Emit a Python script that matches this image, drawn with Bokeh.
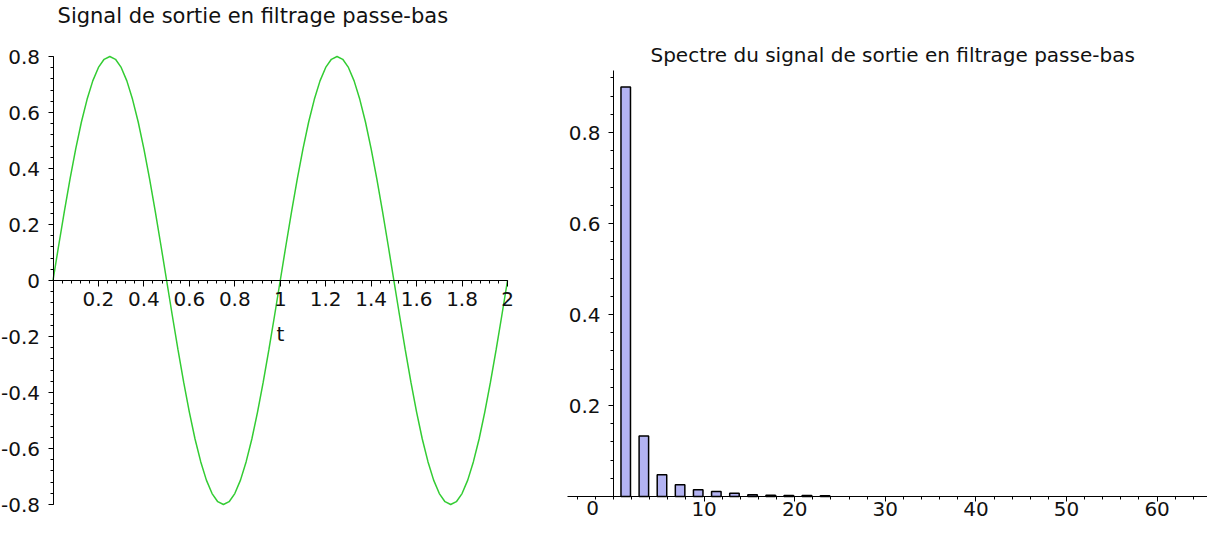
import numpy as np
from bokeh.plotting import figure
from bokeh.layouts import row
from bokeh.models import FixedTicker, Range1d, Label, ColumnDataSource
from bokeh.transform import dodge
from bokeh.embed import file_html
from bokeh.resources import INLINE

# ---------------- data ----------------
title_left = "Signal de sortie en filtrage passe-bas"
title_right = "Spectre du signal de sortie en filtrage passe-bas"

t_values = list(np.round(np.linspace(0, 2, 81), 3))
signal_values = [
    0.000, 0.125, 0.247, 0.363, 0.470, 0.566, 0.647, 0.713, 0.761, 0.790, 0.800,
    0.790, 0.761, 0.713, 0.647, 0.566, 0.470, 0.363, 0.247, 0.125, 0.000,
    -0.125, -0.247, -0.363, -0.470, -0.566, -0.647, -0.713, -0.761, -0.790, -0.800,
    -0.790, -0.761, -0.713, -0.647, -0.566, -0.470, -0.363, -0.247, -0.125, 0.000,
    0.125, 0.247, 0.363, 0.470, 0.566, 0.647, 0.713, 0.761, 0.790, 0.800,
    0.790, 0.761, 0.713, 0.647, 0.566, 0.470, 0.363, 0.247, 0.125, 0.000,
    -0.125, -0.247, -0.363, -0.470, -0.566, -0.647, -0.713, -0.761, -0.790, -0.800,
    -0.790, -0.761, -0.713, -0.647, -0.566, -0.470, -0.363, -0.247, -0.125, 0.000,
]

# spectrum: harmonic rank and amplitude
harmonics = [1, 3, 5, 7, 9, 11, 13, 15, 17, 19, 21, 23]
amplitudes = [0.900, 0.133, 0.048, 0.026, 0.015, 0.011, 0.0073, 0.004, 0.0025, 0.002, 0.002, 0.0015]

# tick labels
x1_ticks = [0.2, 0.4, 0.6, 0.8, 1.0, 1.2, 1.4, 1.6, 1.8, 2.0]
x1_labels = ["0.2", "0.4", "0.6", "0.8", "1", "1.2", "1.4", "1.6", "1.8", "2"]
y1_ticks = [-0.8, -0.6, -0.4, -0.2, 0.0, 0.2, 0.4, 0.6, 0.8]
y1_labels = ["-0.8", "-0.6", "-0.4", "-0.2", "0", "0.2", "0.4", "0.6", "0.8"]
x2_ticks = [10, 20, 30, 40, 50, 60]
x2_labels = ["10", "20", "30", "40", "50", "60"]
y2_ticks = [0.2, 0.4, 0.6, 0.8]
y2_labels = ["0.2", "0.4", "0.6", "0.8"]

FONT = "DejaVu Sans"
FS = "20px"
TXT = "#111111"


def style_axis(ax, major_out, minor_out):
    ax.axis_line_color = "black"
    ax.axis_line_width = 1
    ax.major_tick_line_color = "black"
    ax.minor_tick_line_color = "black"
    ax.major_tick_in = 0
    ax.minor_tick_in = 0
    ax.major_tick_out = major_out
    ax.minor_tick_out = minor_out
    ax.major_label_text_font = FONT
    ax.major_label_text_font_size = FS
    ax.major_label_text_color = TXT


def text_label(x, y, text, size=FS, **kw):
    return Label(x=x, y=y, text=text, text_font=FONT, text_font_size=size,
                 text_color=TXT, **kw)


# ---------------- left: time signal ----------------
# frame covers the whole canvas: 0 -> 52.5 px from left, 227.25 px per unit;
# y = 0 -> 280 px from top, 280 px per unit
W1, H1 = 552, 519
x1_lo = -52.5 / 227.25
y1_hi = 280 / 280
p1 = figure(title=None, frame_width=W1, frame_height=H1,
            x_range=Range1d(x1_lo, x1_lo + W1 / 227.25),
            y_range=Range1d(y1_hi - H1 / 280, y1_hi),
            min_border=0, output_backend="svg", toolbar_location=None)
p1.grid.visible = False
p1.outline_line_color = None

p1.line(t_values, signal_values, color="#33CC33", line_width=1.5)

xa = p1.xaxis[0]
xa.fixed_location = 0
xa.ticker = FixedTicker(ticks=x1_ticks,
                        minor_ticks=list(np.round(np.arange(0, 2.0001, 0.04), 3)))
xa.major_label_overrides = dict(zip(x1_ticks, x1_labels))
xa.bounds = (0, 2)
style_axis(xa, 6, 3)
xa.major_label_standoff = 5
xa.axis_label = "t"
xa.axis_label_text_font = FONT
xa.axis_label_text_font_size = FS
xa.axis_label_text_font_style = "normal"
xa.axis_label_text_color = TXT
xa.axis_label_standoff = 13

ya = p1.yaxis[0]
ya.fixed_location = 0
ya.ticker = FixedTicker(ticks=y1_ticks,
                        minor_ticks=list(np.round(np.arange(-0.8, 0.8001, 0.04), 3)))
ya.major_label_overrides = dict(zip(y1_ticks, y1_labels))
ya.bounds = (-0.8, 0.8)
style_axis(ya, 5, 3)
ya.major_label_standoff = 8

p1.add_layout(text_label(0.02, 0.943, title_left, size="21px",
                         text_align="left", text_baseline="middle"))

# ---------------- right: spectrum ----------------
# frame covers the whole canvas: 0 -> 61 px from left, 9.06 px per unit;
# y = 0 -> 496 px from top, 455 px per unit
W2, H2 = 655, 519
x2_lo = -61 / 9.06
y2_hi = 496 / 455
p2 = figure(title=None, frame_width=W2, frame_height=H2,
            x_range=Range1d(x2_lo, x2_lo + W2 / 9.06),
            y_range=Range1d(y2_hi - H2 / 455, y2_hi),
            min_border=0, output_backend="svg", toolbar_location=None)
p2.grid.visible = False
p2.outline_line_color = None

src = ColumnDataSource(dict(harmonic=harmonics, amplitude=amplitudes))
p2.vbar(x=dodge("harmonic", 0.35), top="amplitude", bottom=0, width=1.05,
        source=src, fill_color="#B3B3F2", line_color="black", line_width=1.5)

xb = p2.xaxis[0]
xb.fixed_location = 0
xb.ticker = FixedTicker(ticks=x2_ticks,
                        minor_ticks=list(range(-4, 67, 2)))
xb.major_label_overrides = dict(zip(x2_ticks, x2_labels))
xb.bounds = (-5.08, x2_lo + W2 / 9.06)
style_axis(xb, 5, 3)
xb.major_label_standoff = 0

yb = p2.yaxis[0]
yb.fixed_location = 0
yb.ticker = FixedTicker(ticks=y2_ticks,
                        minor_ticks=list(np.round(np.arange(0, 0.9301, 0.04), 3)))
yb.major_label_overrides = dict(zip(y2_ticks, y2_labels))
yb.bounds = (0, 0.936)
style_axis(yb, 5, 3)
yb.major_label_standoff = 8

p2.add_layout(text_label(0, 0, "0", x_offset=-21, y_offset=-11,
                         text_align="center", text_baseline="middle"))
p2.add_layout(text_label(4.08, 0.971, title_right, size="20px",
                         text_align="left", text_baseline="middle"))

layout = row(p1, p2)
open("out.html", "w").write(file_html(layout, INLINE))
